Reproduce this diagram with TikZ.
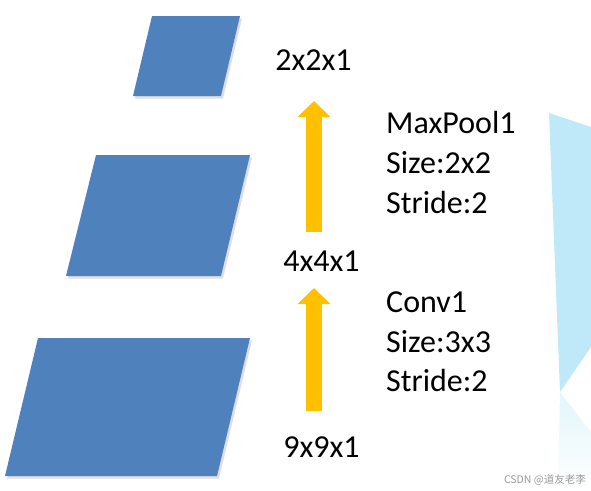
\documentclass[tikz,border=0pt]{standalone}
\usepackage{fontspec}
\setmainfont{Carlito}
\newfontfamily\cjk{Noto Sans CJK SC}
\usetikzlibrary{arrows.meta}

\definecolor{layerblue}{HTML}{4F81BD}
\definecolor{arrowgold}{HTML}{FFC000}
\definecolor{paleblue}{HTML}{BFE9F8}

\begin{document}
\begin{tikzpicture}[
  x=1pt, y=-1pt,
  every node/.style={inner sep=0pt, font=\fontsize{32}{38}\selectfont},
  layer/.style={fill=layerblue},
  layer shadow/.style={fill=black, opacity=0.13},
  size label/.style={anchor=base},
  op label/.style={anchor=base west},
  up arrow/.style={arrowgold, line width=16pt,
    -{Triangle[width=32pt,length=16pt]}}
]
  \useasboundingbox (0,0) rectangle (591,490);

  % feature maps, shadows first
  \fill[layer shadow] (135,98.5) -- (154,18.5) -- (242,18.5) -- (223,98.5) -- cycle;
  \fill[layer shadow] (68,278.5) -- (98,157.5) -- (252,157.5) -- (223,278.5) -- cycle;
  \fill[layer shadow] (7,478.5) -- (40,340.5) -- (252,340.5) -- (219,478.5) -- cycle;
  \fill[layer] (133,96) -- (152,16) -- (240,16) -- (221,96) -- cycle;
  \fill[layer] (66,276) -- (96,155) -- (250,155) -- (221,276) -- cycle;
  \fill[layer] (5,476) -- (38,338) -- (250,338) -- (217,476) -- cycle;

  % sizes
  \node[size label] (s2) at (313.5,70) {2x2x1};
  \node[size label] (s4) at (321.5,271) {4x4x1};
  \node[size label] (s9) at (321.5,457) {9x9x1};

  % arrows between the sizes
  \coordinate (a1from) at (314,411);
  \coordinate (a1to) at (314,288);
  \coordinate (a2from) at (314,232);
  \coordinate (a2to) at (314,101);
  \draw[up arrow] (a1from) -- (a1to);
  \draw[up arrow] (a2from) -- (a2to);

  % layer settings
  \node[op label] (pool) at (386,133) {MaxPool1};
  \node[op label] (poolsize) at (386,173) {Size:2x2};
  \node[op label] (poolstride) at (386,213) {Stride:2};
  \node[op label] (conv) at (386,312) {Conv1};
  \node[op label] (convsize) at (386,352) {Size:3x3};
  \node[op label] (convstride) at (386,391) {Stride:2};

  % pale shape at the right edge and its reflection
  \fill[paleblue] (549,113) -- (591,127) -- (591,347) -- (560,392) -- cycle;
  \shade[top color=paleblue!45, bottom color=white]
    (560,392) -- (591,432) -- (591,490) -- (558,490) -- cycle;

  \node[anchor=base east, font=\cjk\fontsize{10.5}{12}\selectfont, text=black!40]
    (mark) at (586,483) {CSDN @道友老李};
\end{tikzpicture}
\end{document}
